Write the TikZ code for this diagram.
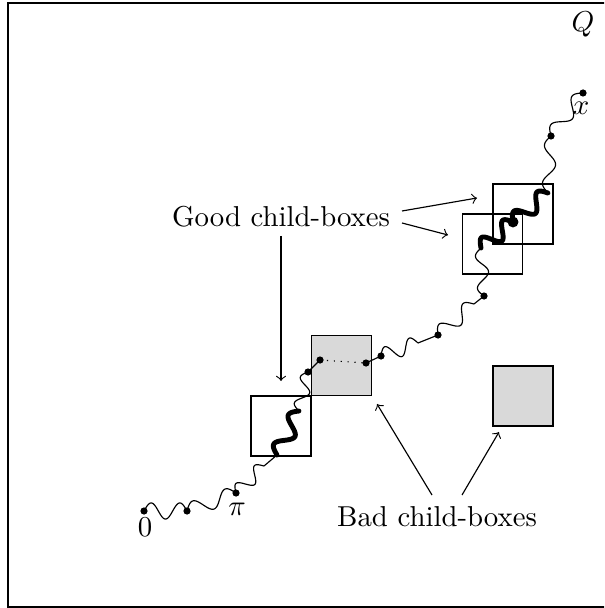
\documentclass[tikz,border=0pt]{standalone}
\usetikzlibrary{calc}
\newcommand\wavyline[5][]{%
  \draw[#1] let \p1=($(#3)-(#2)$) in
    [shift={(#2)},rotate={atan2(\y1,\x1)}]
    plot[domain=0:1,samples=70,smooth,variable=\u] ({\u*veclen(\x1,\y1)},{#4*sin(\u*360*#5)});%
}
\begin{document}
\begin{tikzpicture}[x=0.0122cm,y=-0.0122cm,
  thin wave/.style={line width=0.4pt},
  thick wave/.style={line width=1.7pt,line cap=round,line join=round},
  dot/.style={circle,fill=black,inner sep=0pt,minimum size=2.5pt},
  bigdot/.style={circle,fill=black,inner sep=0pt,minimum size=3.8pt},
  box/.style={draw,line width=0.4pt,inner sep=0pt,minimum size=0.732cm},
  graybox/.style={box,fill=black!15},
  lbl/.style={inner sep=0pt},
  arr/.style={->,line width=0.4pt}]
\useasboundingbox (0,0) rectangle (604,608);
\clip (0,0) rectangle (604,608);
\coordinate (fr1) at (614,3);
\coordinate (fr2) at (8,3);
\coordinate (fr3) at (8,607);
\coordinate (fr4) at (614,607);
\draw[line width=0.4pt] (fr1) -- (fr2) -- (fr3) -- (fr4);
\node[lbl] (Q) at (583,24) {$Q$};
% boxes
\node[box] (b1) at (281,426) {};
\node[graybox] (g1) at (341.5,365.5) {};
\node[box] (bA) at (492.5,244) {};
\node[box] (bB) at (523,214) {};
\node[graybox] (g2) at (523,396) {};
% path points
\node[dot] (p0) at (144,511) {};
\node[dot] (p1) at (187,511) {};
\node[dot] (pi) at (236,493) {};
\coordinate (a2) at (264,466);
\coordinate (a) at (277,455);
\coordinate (b) at (299,411);
\node[dot] (c) at (308,372) {};
\node[dot] (d) at (320,360) {};
\node[dot] (e) at (366,363) {};
\node[dot] (f) at (381,356) {};
\coordinate (f2) at (418,343);
\node[dot] (g) at (438,335) {};
\coordinate (g2) at (474,304);
\node[dot] (h) at (484,296) {};
\coordinate (i) at (481,248);
\node[bigdot] (j) at (513,222) {};
\coordinate (k) at (548,193);
\node[dot] (l) at (551,136) {};
\node[dot] (m) at (583,93) {};
\node[lbl] (lab0) at (145,527) {$0$};
\node[lbl] (labpi) at (237,509) {$\pi$};
\node[lbl] (labx) at (581,108) {$x$};
% wavy path
\wavyline[thin wave]{p0}{p1}{2.8pt}{1.5}
\wavyline[thin wave]{p1}{pi}{2.6pt}{1.5}
\wavyline[thin wave]{pi}{a2}{2.4pt}{1.5}
\draw[thin wave] (a2) -- (a);
\wavyline[thick wave]{a}{b}{2.7pt}{1.5}
\wavyline[thin wave]{b}{c}{2.2pt}{1.5}
\draw (c.center) -- (d.center);
\draw[dotted] (d.center) -- (e.center);
\draw (e.center) -- (f.center);
\wavyline[thin wave]{f}{f2}{2.6pt}{1.5}
\draw[thin wave] (f2) -- (g.center);
\wavyline[thin wave]{g}{g2}{2.6pt}{1.5}
\draw[thin wave] (g2) -- (h.center);
\wavyline[thin wave]{h}{i}{2.1pt}{1.5}
\wavyline[thick wave]{i}{j}{2.7pt}{1.5}
\wavyline[thick wave]{j}{k}{2.7pt}{1.5}
\wavyline[thin wave]{k}{l}{2.1pt}{1.5}
\wavyline[thin wave]{l}{m}{2.4pt}{1.5}
% labels and arrows
\node[lbl] (good) at (281,217) {Good child-boxes};
\node[lbl] (bad) at (437,517) {Bad child-boxes};
\coordinate (gs1) at (402,211);
\coordinate (gt1) at (477,198);
\coordinate (gs2) at (402,223);
\coordinate (gt2) at (448,235);
\coordinate (gs3) at (281,236);
\coordinate (gt3) at (281,381);
\coordinate (bs1) at (432,495);
\coordinate (bt1) at (377,404);
\coordinate (bs2) at (462,495);
\coordinate (bt2) at (499,432);
\draw[arr] (gs1) -- (gt1);
\draw[arr] (gs2) -- (gt2);
\draw[arr] (gs3) -- (gt3);
\draw[arr] (bs1) -- (bt1);
\draw[arr] (bs2) -- (bt2);
\end{tikzpicture}
\end{document}
